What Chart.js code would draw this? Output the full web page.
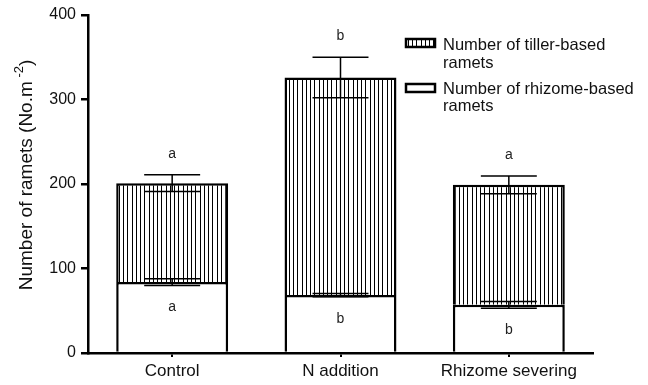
<!DOCTYPE html>
<html><head><meta charset="utf-8">
<script src="https://cdn.jsdelivr.net/npm/chart.js@4"></script>
<style>html,body{margin:0;padding:0;background:#fff}#w{width:648px;height:385px}</style>
</head><body><div id="w"><canvas id="c" width="648" height="385"></canvas></div>
<script>
const categories = ['Control', 'N addition', 'Rhizome severing'];
const rhizomeValues = [84, 68.5, 57];
const tillerValues = [117, 257.5, 142];
const rhizomeErrors = [4, 2, 4];
const tillerErrors = [10, 24, 10.5];
const topLetters = ['a', 'b', 'a'];
const bottomLetters = ['a', 'b', 'b'];
const yTicks = [0, 100, 200, 300, 400];
const legendLabels = [['Number of tiller-based', 'ramets'], ['Number of rhizome-based', 'ramets']];
const yTitle = 'Number of ramets (No.m';
const yTitleSup = '-2';

const FONT = '"Liberation Sans", Arial, sans-serif';

function makeHatch(ctx) {
  const p = document.createElement('canvas');
  p.width = 17; p.height = 4;
  const g = p.getContext('2d');
  g.fillStyle = '#fff'; g.fillRect(0, 0, 17, 4);
  g.fillStyle = '#000';
  [0, 4, 8, 13].forEach(x => g.fillRect(x, 0, 1, 4));
  return ctx.createPattern(p, 'repeat');
}

const canvas = document.getElementById('c');
const ctx0 = canvas.getContext('2d');
const hatch = makeHatch(ctx0);

const overlay = {
  id: 'overlay',
  afterDatasetsDraw(chart) {
    const ctx = chart.ctx;
    const y = chart.scales.y;
    const metaR = chart.getDatasetMeta(0);
    ctx.save();
    ctx.strokeStyle = '#000';
    ctx.fillStyle = '#222';
    ctx.lineWidth = 1.5;
    ctx.font = '14px ' + FONT;
    ctx.textAlign = 'center';
    ctx.textBaseline = 'middle';
    categories.forEach((c, i) => {
      const barR = metaR.data[i];
      const cx = barR.x;
      const half = barR.width * 0.25;
      const drawErr = (v, e) => {
        const yu = y.getPixelForValue(v + e);
        const yl = y.getPixelForValue(v - e);
        ctx.beginPath();
        ctx.moveTo(cx, yu); ctx.lineTo(cx, yl);
        ctx.moveTo(cx - half, yu); ctx.lineTo(cx + half, yu);
        ctx.moveTo(cx - half, yl); ctx.lineTo(cx + half, yl);
        ctx.stroke();
        return [yu, yl];
      };
      const total = rhizomeValues[i] + tillerValues[i];
      const [tu] = drawErr(total, tillerErrors[i]);
      const [, rl] = drawErr(rhizomeValues[i], rhizomeErrors[i]);
      ctx.fillText(topLetters[i], cx, tu - 21);
      ctx.fillText(bottomLetters[i], cx, rl + 22);
    });
    ctx.restore();
  },
  afterDraw(chart) {
    const ctx = chart.ctx;
    ctx.save();
    // y title
    ctx.fillStyle = '#111';
    ctx.translate(27, 175);
    ctx.rotate(-Math.PI / 2);
    ctx.font = '19px ' + FONT;
    const w1 = ctx.measureText(yTitle).width;
    ctx.font = '13px ' + FONT;
    const ws = ctx.measureText(' ' + yTitleSup).width;
    ctx.font = '19px ' + FONT;
    const w3 = ctx.measureText(')').width;
    const tw = w1 + ws + w3;
    let x = -tw / 2;
    ctx.textBaseline = 'middle';
    ctx.textAlign = 'left';
    ctx.fillText(yTitle, x, 0); x += w1;
    ctx.font = '13px ' + FONT;
    ctx.fillText(' ' + yTitleSup, x, -8); x += ws;
    ctx.font = '19px ' + FONT;
    ctx.fillText(')', x, 0);
    ctx.restore();

    // legend
    ctx.save();
    const items = [
      { fill: hatch, top: 39, lines: legendLabels[0], base: [50, 68] },
      { fill: '#fff', top: 84, lines: legendLabels[1], base: [94, 111] }
    ];
    items.forEach(it => {
      ctx.fillStyle = it.fill;
      ctx.fillRect(406, it.top, 29, 8);
      ctx.strokeStyle = '#000';
      ctx.lineWidth = 2.5;
      ctx.strokeRect(406, it.top, 29, 8);
      ctx.fillStyle = '#111';
      ctx.font = '16.5px ' + FONT;
      ctx.textAlign = 'left';
      ctx.textBaseline = 'alphabetic';
      it.lines.forEach((l, k) => ctx.fillText(l, 443, it.base[k]));
    });
    ctx.restore();
  }
};

new Chart(canvas, {
  type: 'bar',
  data: {
    labels: categories,
    datasets: [
      { label: 'Number of rhizome-based ramets', data: rhizomeValues, backgroundColor: '#fff', borderColor: '#000', borderWidth: 2.5, barPercentage: 0.665, categoryPercentage: 1 },
      { label: 'Number of tiller-based ramets', data: tillerValues, backgroundColor: hatch, borderColor: '#000', borderWidth: 2.5, barPercentage: 0.665, categoryPercentage: 1 }
    ]
  },
  options: {
    responsive: false,
    animation: false,
    devicePixelRatio: 1,
    layout: { padding: { top: 15, right: 55, left: 0, bottom: 0 } },
    plugins: { legend: { display: false }, tooltip: { enabled: false } },
    scales: {
      x: {
        stacked: true,
        afterFit(s) { s.height = 32; },
        grid: { drawOnChartArea: false, offset: false, tickLength: 4, color: '#000', lineWidth: 2 },
        border: { color: '#000', width: 2.5 },
        ticks: { color: '#111', font: { family: FONT, size: 17 }, padding: 4 }
      },
      y: {
        stacked: true,
        min: 0, max: 400,
        afterFit(s) { s.width = 88; },
        afterBuildTicks(s) { s.ticks = yTicks.map(v => ({ value: v })); },
        grid: { drawOnChartArea: false, tickLength: 7, color: '#000', lineWidth: 2.5 },
        border: { color: '#000', width: 2.5 },
        ticks: { color: '#111', font: { family: FONT, size: 16 }, padding: 5 }
      }
    }
  },
  plugins: [overlay]
});
</script>
</body></html>
